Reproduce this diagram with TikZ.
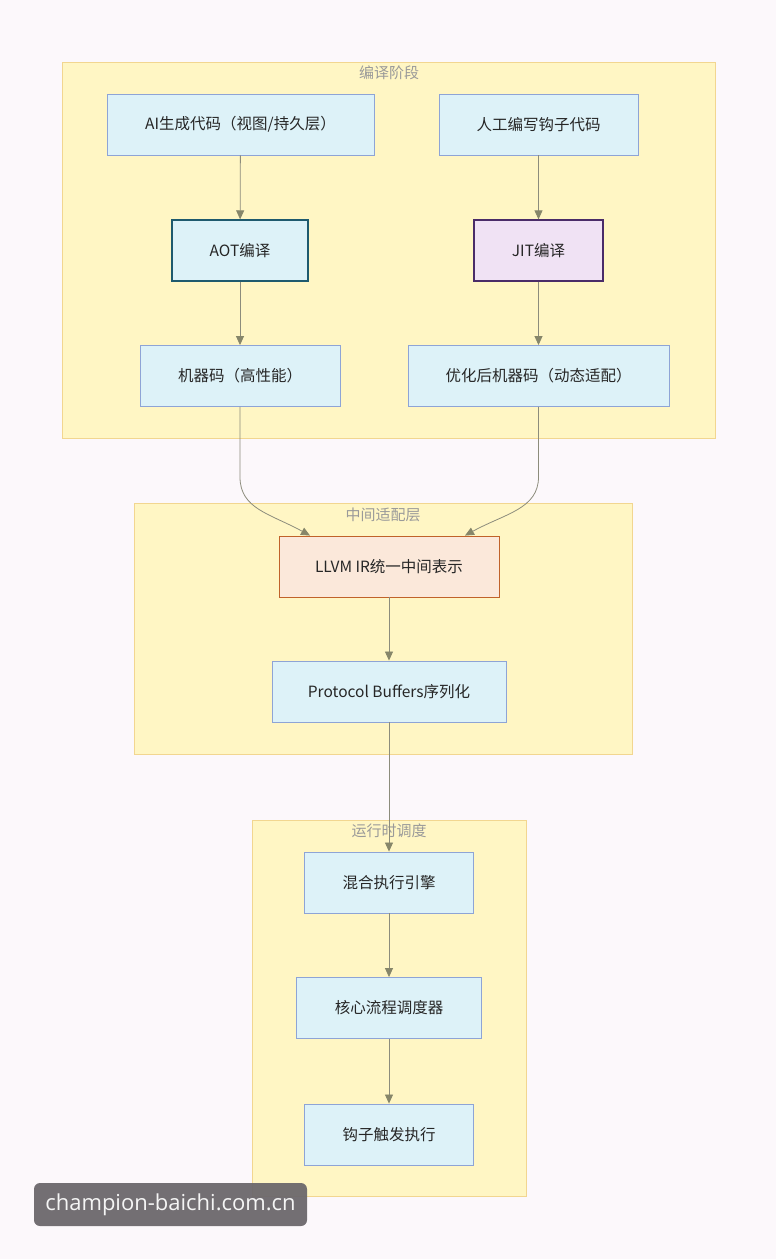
\documentclass[tikz,border=0pt]{standalone}
\usepackage{fontspec}
\setmainfont{Noto Sans CJK SC}
\newfontfamily\wmfont{Open Sans}
\usetikzlibrary{arrows.meta,calc}
\definecolor{bgc}{HTML}{FCF8FB}
\definecolor{clfill}{HTML}{FFF6C4}
\definecolor{cldraw}{HTML}{F2D690}
\definecolor{cltext}{HTML}{9A9A9A}
\definecolor{bluef}{HTML}{DDF2F8}
\definecolor{blued}{HTML}{8EA4D6}
\definecolor{tealdraw}{HTML}{1E5A6E}
\definecolor{lavf}{HTML}{F0E2F4}
\definecolor{purd}{HTML}{4A2C68}
\definecolor{peachf}{HTML}{FBE8DA}
\definecolor{orgd}{HTML}{C0622A}
\definecolor{arrc}{HTML}{8C8C7C}
\definecolor{tipc}{HTML}{86866A}
\definecolor{wmbg}{HTML}{6C686C}
\tikzset{
  cluster/.style={draw=cldraw,fill=clfill,line width=0.9pt},
  cltitle/.style={text=cltext,font=\fontsize{15}{17}\selectfont},
  box/.style={draw=blued,fill=bluef,line width=0.9pt,minimum height=61pt,font=\fontsize{15.5}{18}\selectfont,text=black!85,inner sep=0pt},
  aotbox/.style={box,draw=tealdraw,line width=1.3pt},
  jitbox/.style={box,draw=purd,fill=lavf,line width=1.3pt},
  llvmbox/.style={box,draw=orgd,fill=peachf},
  arr/.style={draw=arrc,line width=0.8pt,-{Triangle[length=9pt,width=8pt,fill=tipc,color=tipc]}}
}
\begin{document}
\begin{tikzpicture}[x=1pt,y=-1pt]
\path[fill=bgc] (0,0) rectangle (776,1259);
% clusters
\draw[cluster] (62,62) rectangle (715,438);
\node[cltitle] (t1) at (389,73) {编译阶段};
\draw[cluster] (134,503) rectangle (632,754);
\node[cltitle] (t2) at (383,515) {中间适配层};
\draw[cluster] (252,820) rectangle (526,1196);
\node[cltitle] (t3) at (389,831) {运行时调度};
% nodes
\node[box,minimum width=267pt] (ai) at (240.5,124.5) {AI生成代码（视图/持久层）};
\node[box,minimum width=199pt] (hand) at (538.5,124.5) {人工编写钩子代码};
\node[aotbox,minimum width=136pt] (aot) at (240,250.5) {AOT编译};
\node[jitbox,minimum width=129pt] (jit) at (538.5,250.5) {JIT编译};
\node[box,minimum width=200pt] (m1) at (240,376) {机器码（高性能）};
\node[box,minimum width=261pt] (m2) at (538.5,376) {优化后机器码（动态适配）};
\node[llvmbox,minimum width=220pt] (llvm) at (389,566.5) {LLVM IR统一中间表示};
\node[box,minimum width=234pt] (pb) at (389,691.5) {Protocol Buffers序列化};
\node[box,minimum width=169pt] (mix) at (389,882.5) {混合执行引擎};
\node[box,minimum width=185pt] (core) at (389,1008) {核心流程调度器};
\node[box,minimum width=169pt] (hook) at (389,1134.5) {钩子触发执行};
% edges
\draw[arr] (ai) -- (aot);
\draw[arr] (hand) -- (jit);
\draw[arr] (aot) -- (m1);
\draw[arr] (jit) -- (m2);
\draw[arr] (m1.south) -- ++(0,70) .. controls +(0,32) and +(-40,-22) .. ([xshift=-79pt]llvm.north);
\draw[arr] (m2.south) -- ++(0,70) .. controls +(0,32) and +(40,-22) .. ([xshift=76pt]llvm.north);
\draw[arr] (llvm) -- (pb);
\draw[arr] (pb) -- (mix);
\draw[arr] (mix) -- (core);
\draw[arr] (core) -- (hook);
% watermark
\node[fill=wmbg,fill opacity=0.95,text opacity=1,rounded corners=6pt,minimum width=273pt,minimum height=43pt,inner sep=0pt,text=white!92!gray,font=\wmfont\fontsize{22}{25}\selectfont] (wm) at (170.5,1204.5) {champion-baichi.com.cn};
\end{tikzpicture}
\end{document}
